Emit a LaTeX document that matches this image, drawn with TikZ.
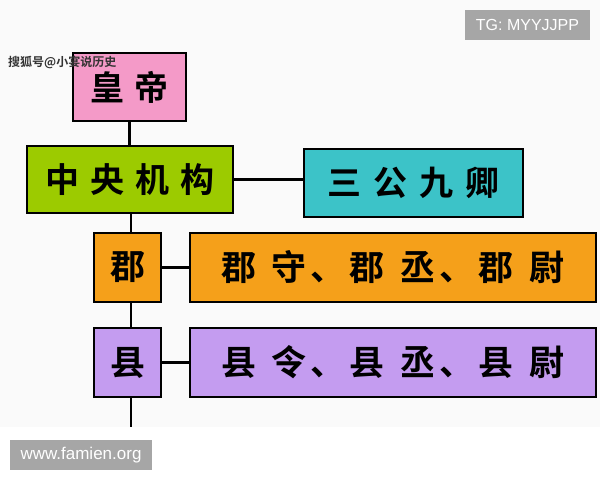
\documentclass[tikz,border=0pt]{standalone}
\usepackage{fontspec}
\setmainfont{Liberation Sans}
\newfontfamily\cjk{Noto Sans CJK SC Bold}
\definecolor{bgc}{HTML}{FAFAFA}
\definecolor{pinkc}{HTML}{F49AC8}
\definecolor{greenc}{HTML}{9CCB00}
\definecolor{cyanc}{HTML}{3CC3C8}
\definecolor{orangec}{HTML}{F5A01A}
\definecolor{purplec}{HTML}{C49CF0}
\definecolor{badgec}{HTML}{A6A6A6}
\tikzset{
  box/.style={draw=black, line width=2.2pt, inner sep=0pt,
    font=\cjk\fontsize{34}{34}\selectfont, text=black},
  bigbox/.style={box, font=\cjk\fontsize{35}{35}\selectfont},
  link/.style={line width=2.5pt, draw=black},
  badge/.style={fill=badgec, inner sep=0pt, text=white}
}
\begin{document}
\begin{tikzpicture}[x=1pt,y=-1pt]
\useasboundingbox (0,0) rectangle (600,480);
\fill[bgc] (0,0) rectangle (600,427);
% boxes
\node[box, fill=pinkc, minimum width=113pt, minimum height=68pt] (hd) at (129.5,87) {皇\hspace{10pt}帝};
\node[box, fill=greenc, minimum width=206pt, minimum height=67pt] (zy) at (130,179.5) {中\hspace{11pt}央\hspace{11pt}机\hspace{11pt}构};
\node[box, fill=cyanc, minimum width=219pt, minimum height=68pt] (sg) at (413.5,183) {三\hspace{12pt}公\hspace{12pt}九\hspace{12pt}卿};
\node[bigbox, fill=orangec, minimum width=67pt, minimum height=69pt] (jun) at (127.5,267.5) {郡};
\node[bigbox, fill=orangec, minimum width=406pt, minimum height=69pt] (junr) at (393,267.5) {郡\hspace{16pt}守\hspace{4pt}、\hspace{4pt}郡\hspace{16pt}丞\hspace{4pt}、\hspace{4pt}郡\hspace{16pt}尉\hspace{12pt}};
\node[bigbox, fill=purplec, minimum width=67pt, minimum height=69pt] (xian) at (127.5,362.5) {县};
\node[bigbox, fill=purplec, minimum width=406pt, minimum height=69pt] (xianr) at (393,362.5) {县\hspace{16pt}令\hspace{4pt}、\hspace{4pt}县\hspace{16pt}丞\hspace{4pt}、\hspace{4pt}县\hspace{16pt}尉\hspace{12pt}};
\coordinate (end) at (131,427);
% connectors
\draw[link] (hd.south) -- (hd.south |- zy.north);
\draw[link] (zy.east) -- (zy.east -| sg.west);
\draw[link] (end |- zy.south) -- (end |- jun.north);
\draw[link] (jun.east) -- (jun.east -| junr.west);
\draw[link] (end |- jun.south) -- (end |- xian.north);
\draw[link] (xian.east) -- (xian.east -| xianr.west);
\draw[link] (end |- xian.south) -- (end);
% watermarks
\node[inner sep=0pt, anchor=west, text=black!80, font=\cjk\fontsize{12}{12}\selectfont] (wm) at (8,62) {搜狐号@小宴说历史};
\node[badge, minimum width=125pt, minimum height=30pt, font=\fontsize{16}{16}\selectfont] (tg) at (527.5,25) {TG: MYYJJPP};
\node[badge, minimum width=142pt, minimum height=30pt, font=\fontsize{17}{17}\selectfont] (www) at (81,455) {www.famien.org};
\end{tikzpicture}
\end{document}
